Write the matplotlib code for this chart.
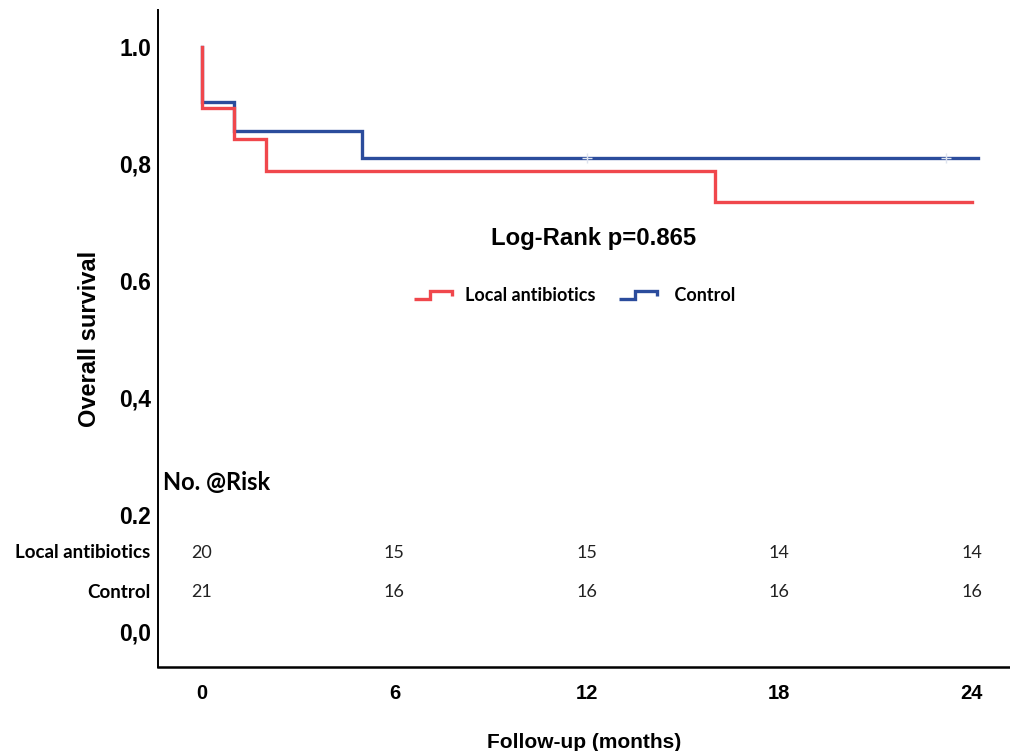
import matplotlib
matplotlib.use("Agg")
import matplotlib.pyplot as plt
from matplotlib.legend_handler import HandlerBase
from matplotlib.lines import Line2D
import matplotlib.transforms as mtransforms

# ---- data ----
local_t = [0, 0, 1, 2, 16, 24]
local_s = [1.0, 0.895, 0.842, 0.788, 0.735, 0.735]
control_t = [0, 0, 1, 5, 24.2]
control_s = [1.0, 0.906, 0.856, 0.81, 0.81]
control_censor_t = [12, 23.2]
control_censor_s = [0.81, 0.81]

risk_times = [0, 6, 12, 18, 24]
risk_local = [20, 15, 15, 14, 14]
risk_control = [21, 16, 16, 16, 16]
group_names = ["Local antibiotics", "Control"]

xticks = [0, 6, 12, 18, 24]
yticks = [0.0, 0.2, 0.4, 0.6, 0.8, 1.0]
ytick_labels = ["0,0", "0.2", "0,4", "0.6", "0,8", "1.0"]

RED = "#f0474c"
BLUE = "#2b4c9c"

arial = ["Liberation Sans", "DejaVu Sans"]
calib = ["Lato", "DejaVu Sans"]


class HandlerStep(HandlerBase):
    def create_artists(self, legend, orig_handle, xdescent, ydescent,
                       width, height, fontsize, trans):
        x0 = -xdescent
        lo = -ydescent + height * 0.1
        hi = -ydescent + height * 0.8
        xm = x0 + width * 0.42
        line = Line2D([x0, xm, xm, x0 + width, x0 + width],
                      [lo, lo, hi, hi, hi - height * 0.4],
                      color=orig_handle.get_color(), lw=2.4,
                      solid_joinstyle="miter", solid_capstyle="butt")
        line.set_transform(trans)
        return [line]


fig = plt.figure(figsize=(10.10, 7.51), dpi=100)
ax = fig.add_axes([0.1564, 0.1119, 0.8436, 0.8748])

lc, = ax.plot(control_t, control_s, drawstyle="steps-post", color=BLUE,
              lw=2.4, solid_joinstyle="miter")
ll, = ax.plot(local_t, local_s, drawstyle="steps-post", color=RED,
              lw=2.4, solid_joinstyle="miter")
ax.plot(control_censor_t, control_censor_s, linestyle="none", marker="+",
        color="#dde3ee", markersize=7, mew=1.0)

ax.set_xlim(-1.37, 25.19)
ax.set_ylim(-0.06, 1.063)

ax.spines["top"].set_visible(False)
ax.spines["right"].set_visible(False)
ax.spines["left"].set_linewidth(1.4)
ax.spines["bottom"].set_linewidth(1.8)

ax.set_xticks(xticks)
ax.set_xticklabels([str(v) for v in xticks], family=arial,
                   fontweight="bold", fontsize=14.5)
ax.set_yticks(yticks)
ax.set_yticklabels(ytick_labels, family=arial, fontweight="bold",
                   fontsize=16.5)
ax.tick_params(axis="x", length=0, pad=12)
ax.tick_params(axis="y", length=0, pad=5)

ax.set_xlabel("Follow-up (months)", family=arial, fontweight="bold",
              fontsize=15, labelpad=22)
ax.set_ylabel("Overall survival", family=arial, fontweight="bold",
              fontsize=17, labelpad=13)

ax.text(12.2, 0.673, "Log-Rank p=0.865", family=arial, fontweight="bold",
        fontsize=17.2, ha="center", va="center")

leg = ax.legend([ll, lc], [group_names[0], " " + group_names[1]],
                handler_map={Line2D: HandlerStep()},
                loc="center", bbox_to_anchor=(0.489, 0.566), ncol=2,
                frameon=False, handlelength=2.1, handletextpad=0.7,
                columnspacing=1.3, prop={"family": calib, "weight": "bold",
                                         "size": 13})

# number at risk table
ax.text(-1.22, 0.255, "No. @Risk", family=calib, fontweight="bold",
        fontsize=17, ha="left", va="center")
trans = mtransforms.blended_transform_factory(ax.transAxes, ax.transData)
rows_y = [0.135, 0.068]
for name, ry, counts in zip(group_names, rows_y, [risk_local, risk_control]):
    ax.text(-0.009, ry, name, transform=trans, family=calib,
            fontweight="bold", fontsize=13.5, ha="right", va="center",
            clip_on=False)
    for t, n in zip(risk_times, counts):
        ax.text(t, ry, str(n), family=calib, fontsize=13, ha="center",
                va="center", color="#222222")

fig.savefig("out.png", dpi=100)
